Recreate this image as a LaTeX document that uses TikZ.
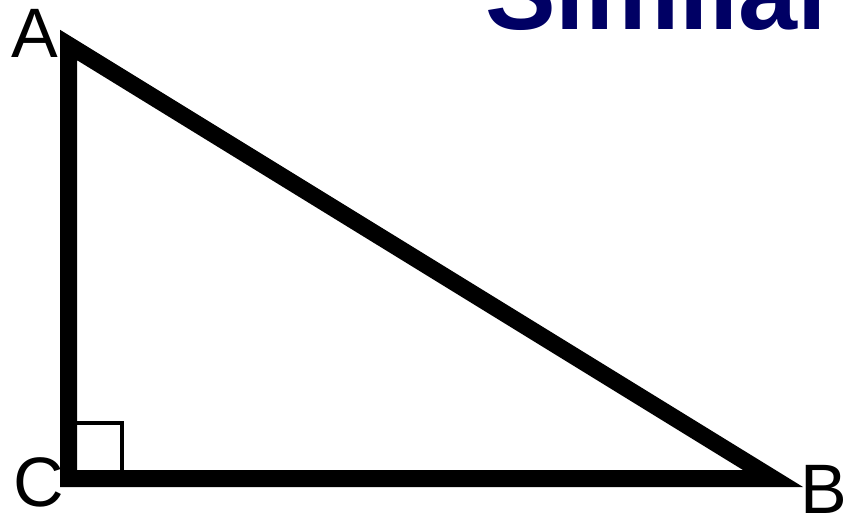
\documentclass[tikz,border=0pt]{standalone}
\usepackage{fontspec}
\setmainfont{Liberation Sans}
\definecolor{navy}{RGB}{0,0,100}
\begin{document}
\begin{tikzpicture}[x=1pt,y=-1pt,
  side/.style={line width=17pt,line join=miter,miter limit=10},
  rmark/.style={line width=4pt},
  vlabel/.style={anchor=base,inner sep=0pt,font=\fontsize{70}{70}\selectfont},
  ttl/.style={anchor=base west,inner sep=0pt,text=navy,font=\fontsize{106}{106}\selectfont\bfseries}]
\useasboundingbox (0,0) rectangle (844,516);
\coordinate (A) at (68.5,45);
\coordinate (C) at (68.5,478.5);
\coordinate (B) at (773,478.5);
\draw[side] (A) -- (B) -- (C) -- cycle;
\coordinate (r1) at (77,423);
\coordinate (r2) at (122,423);
\coordinate (r3) at (122,470);
\draw[rmark] (r1) -- (r2) -- (r3);
\node[vlabel] (la) at (34.5,58) {A};
\node[vlabel] (lc) at (38.5,506) {C};
\node[vlabel] (lb) at (824,513) {B};
\node[ttl] (title) at (485,30) {Similar};
\end{tikzpicture}
\end{document}
